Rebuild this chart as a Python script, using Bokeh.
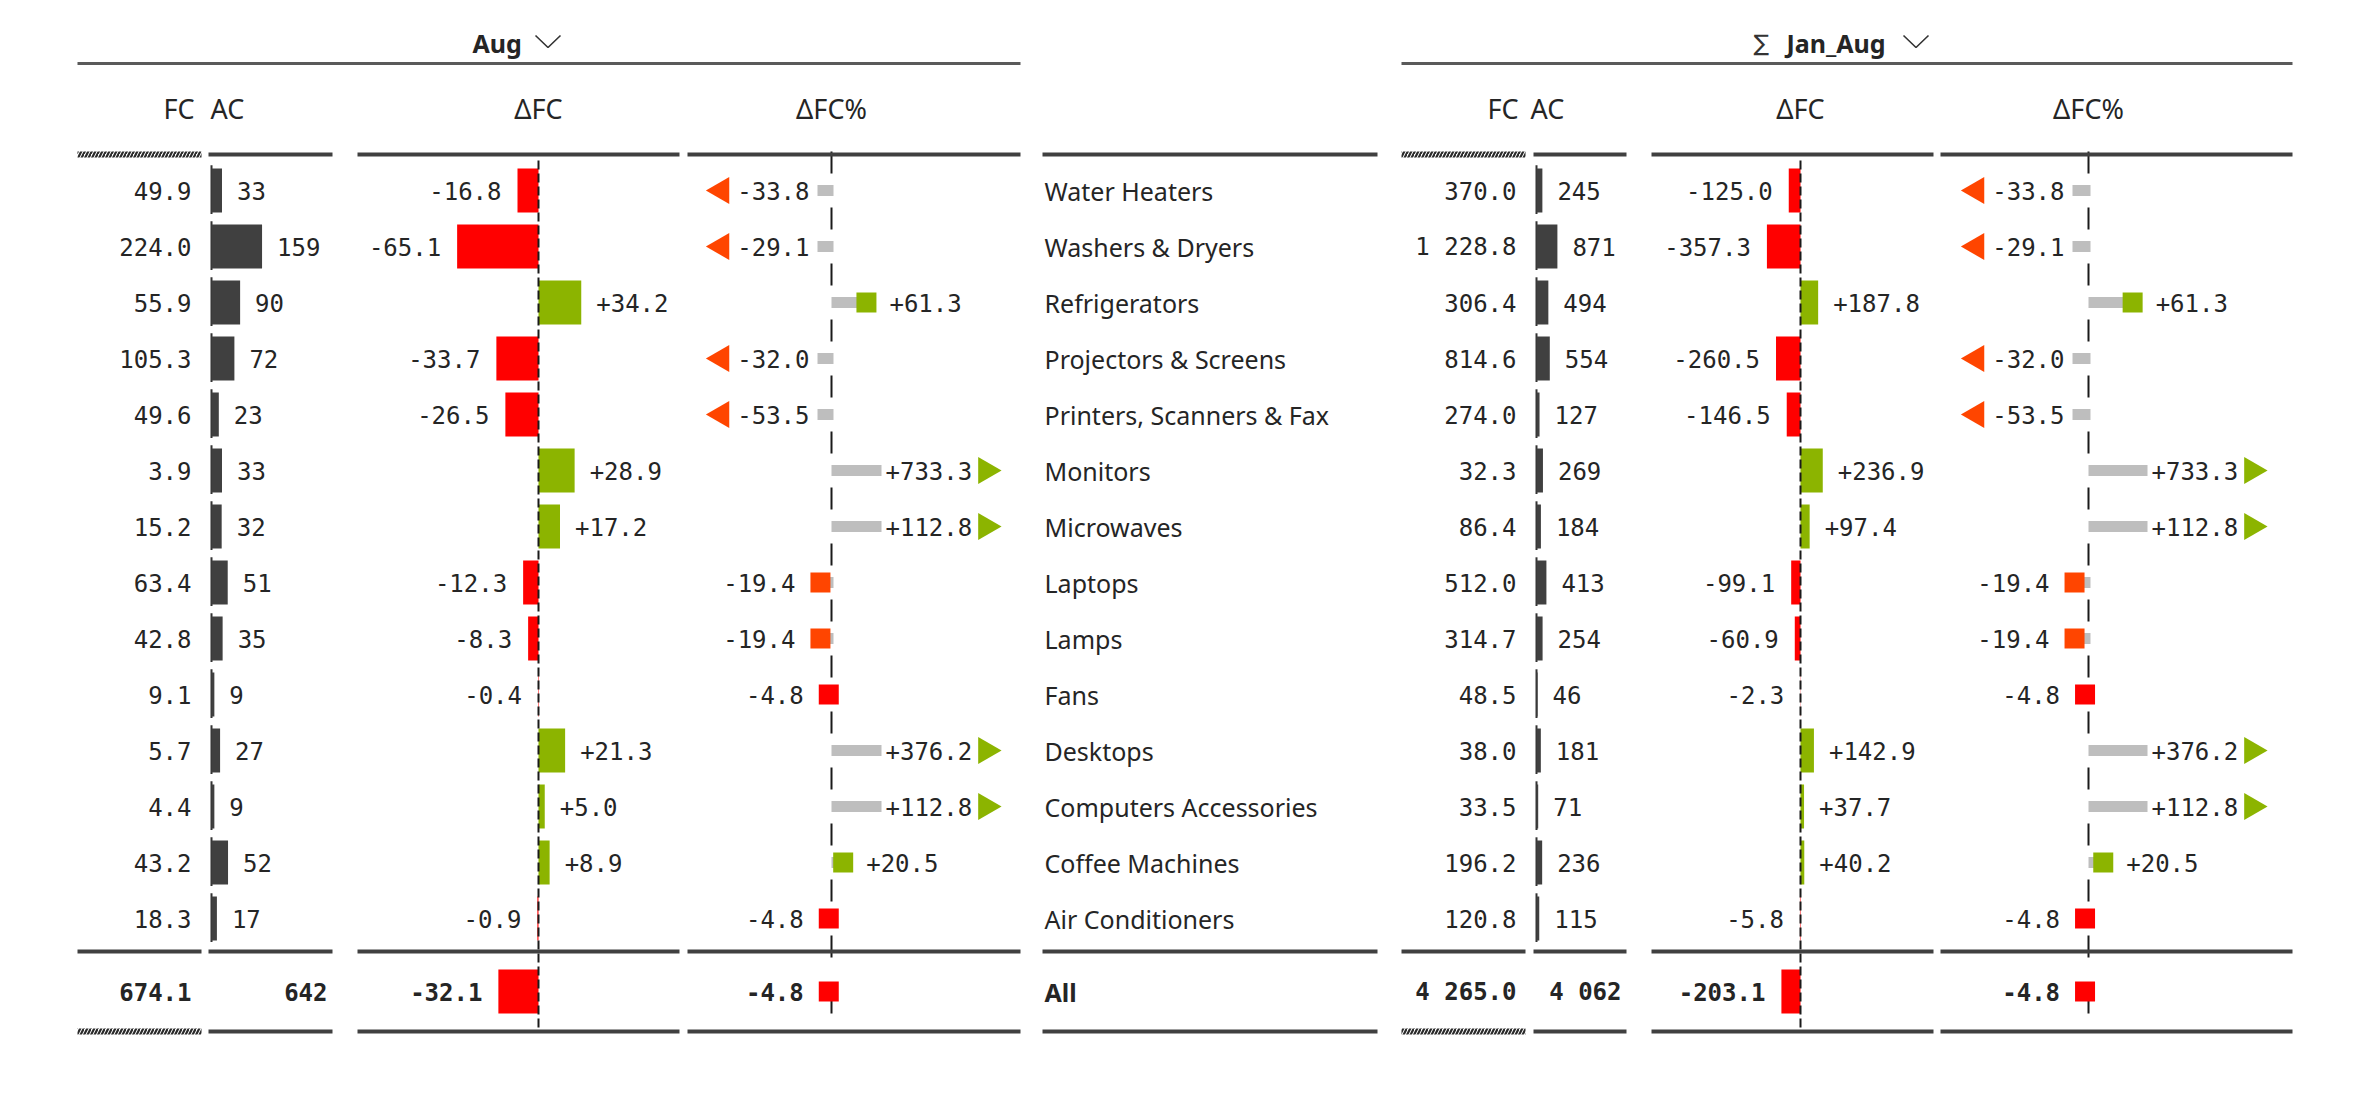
import math
from bokeh.plotting import figure
from bokeh.models import Range1d
from bokeh.core.properties import value
from bokeh.embed import file_html
from bokeh.resources import INLINE

# ---------------- data ----------------
categories = ["Water Heaters", "Washers & Dryers", "Refrigerators", "Projectors & Screens",
              "Printers, Scanners & Fax", "Monitors", "Microwaves", "Laptops", "Lamps", "Fans",
              "Desktops", "Computers Accessories", "Coffee Machines", "Air Conditioners"]
aug_fc = [49.9, 224.0, 55.9, 105.3, 49.6, 3.9, 15.2, 63.4, 42.8, 9.1, 5.7, 4.4, 43.2, 18.3]
aug_ac = [33, 159, 90, 72, 23, 33, 32, 51, 35, 9, 27, 9, 52, 17]
aug_dfc = [-16.8, -65.1, 34.2, -33.7, -26.5, 28.9, 17.2, -12.3, -8.3, -0.4, 21.3, 5.0, 8.9, -0.9]
aug_dfc_pct = [-33.8, -29.1, 61.3, -32.0, -53.5, 733.3, 112.8, -19.4, -19.4, -4.8, 376.2, 112.8, 20.5, -4.8]
ytd_fc = [370.0, 1228.8, 306.4, 814.6, 274.0, 32.3, 86.4, 512.0, 314.7, 48.5, 38.0, 33.5, 196.2, 120.8]
ytd_ac = [245, 871, 494, 554, 127, 269, 184, 413, 254, 46, 181, 71, 236, 115]
ytd_dfc = [-125.0, -357.3, 187.8, -260.5, -146.5, 236.9, 97.4, -99.1, -60.9, -2.3, 142.9, 37.7, 40.2, -5.8]
ytd_dfc_pct = [-33.8, -29.1, 61.3, -32.0, -53.5, 733.3, 112.8, -19.4, -19.4, -4.8, 376.2, 112.8, 20.5, -4.8]
total_label = "All"
aug_total_fc, aug_total_ac, aug_total_dfc, aug_total_pct = 674.1, 642, -32.1, -4.8
ytd_total_fc, ytd_total_ac, ytd_total_dfc, ytd_total_pct = 4265.0, 4062, -203.1, -4.8
period_titles = ["Aug", "Jan_Aug"]
column_headers = ["FC", "AC", "\u0394FC", "\u0394FC%"]

# ---------------- layout / style ----------------
W, H = 2352, 1090
X0, Y0 = 0, 0
ROW0, PITCH = 190.0, 56.0


def ry(py):
    return (py - ROW0) / PITCH


NUM_FONT = value("DejaVu Sans Mono")
SANS = value("Noto Sans")
SYM = value("DejaVu Sans")
FS = "24px"
CAT_FS = "25px"
HDR_FS = "27px"
TXT = "#252525"
GREEN, RED, ORANGE, STEM, DARK = "#8CB400", "#FF0000", "#FF4500", "#BEBEBE", "#404040"
BAR_H = 44 / PITCH
STEM_H = 11 / PITCH
CW = 0.602 * 24  # mono char width
SEP = "\u202f"

Y_TITLE, Y_TOPLINE, Y_HDR, Y_HLINE = ry(42), ry(63), ry(108), ry(154)
Y_SEP, Y_TOT, Y_BOT = ry(951), ry(991), ry(1031)

p = figure(width=W, height=H, output_backend="svg", toolbar_location=None,
           x_range=Range1d(X0, X0 + W), y_range=Range1d(ry(Y0 + H), ry(Y0)),
           x_axis_location=None, y_axis_location=None, min_border=0,
           outline_line_color=None, background_fill_color="white", border_fill_color="white")
p.grid.visible = False


def add_range(name, axis_page, ppu):
    p.extra_x_ranges[name] = Range1d((X0 - axis_page) / ppu, (X0 + W - axis_page) / ppu)


def txt(x, y, text, align="left", xoff=0, font=NUM_FONT, bold=False, rng=None, size=FS, color=TXT):
    kw = {}
    if rng is not None:
        kw["x_range_name"] = rng
    p.text(x=list(x), y=list(y), text=list(text), x_offset=xoff, text_align=align,
           text_baseline="middle", text_font=font, text_font_size=size,
           text_font_style="bold" if bold else "normal", text_color=color, **kw)


def f1(v):
    return f"{v:,.1f}".replace(",", SEP)


def f0(v):
    return f"{v:,d}".replace(",", SEP)


def fs(v):
    return f"{v:+,.1f}".replace(",", SEP)


def hline(x0, x1, y, width=4, color=DARK):
    p.segment(x0=[x0], x1=[x1], y0=[y], y1=[y], line_color=color, line_width=width)


def hatched(x0, x1, y):
    p.hbar(y=[y], left=[x0], right=[x1], height=6 / PITCH, fill_color=None, line_color=None,
           hatch_pattern="/", hatch_color="#2a2a2a", hatch_scale=7, hatch_weight=2.2)


def draw_panel(tag, fc, ac, dfc, pct, t_fc, t_ac, t_dfc, t_pct, cfg):
    n = len(fc)
    ys = list(range(n))
    acr, dr, pr = "ac" + tag, "d" + tag, "p" + tag
    add_range(acr, cfg["ac_axis"], cfg["ac_ppu"])
    add_range(dr, cfg["d_axis"], cfg["d_ppu"])
    add_range(pr, cfg["p_axis"], cfg["p_ppu"])

    # ---- FC / AC ----
    p.segment(x0=[0] * n, x1=[0] * n, y0=[y - 0.45 for y in ys], y1=[y + 0.42 for y in ys],
              x_range_name=acr, line_color="#333333", line_width=2)
    p.hbar(y=ys, left=[0] * n, right=ac, height=BAR_H, x_range_name=acr,
           fill_color=DARK, line_color=None)
    txt([0] * n, ys, [f1(v) for v in fc], align="right", xoff=-20, rng=acr)
    txt(ac, ys, [f0(v) for v in ac], align="left", xoff=15, rng=acr)
    txt([0], [Y_TOT], [f1(t_fc)], align="right", xoff=-20, rng=acr, bold=True)
    txt([cfg["ac_seg"][1] - 5], [Y_TOT], [f0(t_ac)], align="right", bold=True)

    # ---- delta FC ----
    dv = dfc + [t_dfc]
    dy = ys + [Y_TOT]
    p.hbar(y=dy, left=[min(0, v) for v in dv], right=[max(0, v) for v in dv], height=BAR_H,
           x_range_name=dr, fill_color=[GREEN if v > 0 else RED for v in dv], line_color=None)
    p.segment(x0=[0], x1=[0], y0=[ry(160)], y1=[Y_BOT], x_range_name=dr,
              line_color="#1a1a1a", line_width=2, line_dash="9 4")
    txt(dfc, ys, [fs(v) for v in dfc], align=["left" if v > 0 else "right" for v in dfc],
        xoff=[15 if v > 0 else -16 for v in dfc], rng=dr)
    txt([t_dfc], [Y_TOT], [fs(t_dfc)], align="right" if t_dfc < 0 else "left",
        xoff=-16 if t_dfc < 0 else 15, rng=dr, bold=True)

    # ---- delta FC % ----
    ppu = cfg["p_ppu"]
    lo, hi = cfg["lo_px"] / ppu, cfg["hi_px"] / ppu
    p.segment(x0=[0], x1=[0], y0=[ry(151)], y1=[Y_BOT], x_range_name=pr,
              line_color="#1a1a1a", line_width=2, line_dash="22 34")
    pv = pct + [t_pct]
    py = ys + [Y_TOT]
    stem = [min(max(v, lo), hi) for v in pv]
    p.hbar(y=py, left=[min(0, s) for s in stem], right=[max(0, s) + 2 / ppu for s in stem],
           height=STEM_H, x_range_name=pr, fill_color=STEM, line_color=None)

    def col(v):
        if v > 0:
            return GREEN
        return ORANGE if v < -10 else RED

    inr = [(v, y) for v, y in zip(pv, py) if lo <= v <= hi]
    p.scatter(x=[v for v, _ in inr], y=[y for _, y in inr], marker="square", size=20,
              x_range_name=pr, fill_color=[col(v) for v, _ in inr], line_color=None)
    rows_in = [(v, y) for v, y in zip(pct, ys) if lo <= v <= hi]
    txt([v for v, _ in rows_in], [y for _, y in rows_in], [fs(v) for v, _ in rows_in],
        align=["left" if v > 0 else "right" for v, _ in rows_in],
        xoff=[23 if v > 0 else -25 for v, _ in rows_in], rng=pr)
    txt([t_pct], [Y_TOT], [fs(t_pct)], align="right" if t_pct < 0 else "left",
        xoff=-25 if t_pct < 0 else 23, rng=pr, bold=True)
    neg = [(v, y) for v, y in zip(pct, ys) if v < lo]
    pos = [(v, y) for v, y in zip(pct, ys) if v > hi]
    txt([lo] * len(neg), [y for _, y in neg], [fs(v) for v, _ in neg], align="right", xoff=-8, rng=pr)
    txt([hi] * len(pos), [y for _, y in pos], [fs(v) for v, _ in pos], align="left", xoff=6, rng=pr)
    TS = 27
    th = TS / 2 * math.sqrt(3)
    nx = [lo + (-(8 + len(fs(v)) * CW + 8) - th / 3) / ppu for v, _ in neg]
    px = [hi + (6 + len(fs(v)) * CW + 6 + th / 3) / ppu for v, _ in pos]
    p.scatter(x=nx, y=[y for _, y in neg], marker="triangle", size=TS, angle=math.pi / 2,
              x_range_name=pr, fill_color=ORANGE, line_color=None)
    p.scatter(x=px, y=[y for _, y in pos], marker="triangle", size=TS, angle=-math.pi / 2,
              x_range_name=pr, fill_color=GREEN, line_color=None)

    # ---- header + lines ----
    txt([cfg["ac_axis"] + cfg["hdr_fc"]], [Y_HDR], [column_headers[0]], align="right", font=SANS, size=HDR_FS)
    txt([cfg["ac_axis"] + cfg["hdr_ac"]], [Y_HDR], [column_headers[1]], align="left", font=SANS, size=HDR_FS)
    txt([0], [Y_HDR], [column_headers[2]], align="center", font=SANS, rng=dr, size=HDR_FS)
    txt([0], [Y_HDR], [column_headers[3]], align="center", font=SANS, rng=pr, size=HDR_FS)
    hline(cfg["fc_seg"][0], cfg["p_seg"][1], Y_TOPLINE, width=3, color="#5a5a5a")
    for y in (Y_HLINE, Y_SEP, Y_BOT):
        if y == Y_SEP:
            hline(cfg["fc_seg"][0], cfg["fc_seg"][1], y)
        else:
            hatched(cfg["fc_seg"][0], cfg["fc_seg"][1], y)
        for seg in ("ac_seg", "d_seg", "p_seg"):
            hline(cfg[seg][0], cfg[seg][1], y)


left_cfg = dict(ac_axis=211, ac_ppu=0.318, d_axis=538, d_ppu=1.25, p_axis=831, p_ppu=0.57,
                lo_px=-14, hi_px=48, fc_seg=(77, 201), ac_seg=(208, 332), d_seg=(357, 679),
                p_seg=(687, 1020), hdr_fc=-17, hdr_ac=-1)
right_cfg = dict(ac_axis=1536, ac_ppu=0.024, d_axis=1800, d_ppu=0.094, p_axis=2088, p_ppu=0.72,
                 lo_px=-16, hi_px=57, fc_seg=(1401, 1525), ac_seg=(1533, 1626), d_seg=(1651, 1933),
                 p_seg=(1940, 2292), hdr_fc=-18, hdr_ac=-6)

draw_panel("L", aug_fc, aug_ac, aug_dfc, aug_dfc_pct,
           aug_total_fc, aug_total_ac, aug_total_dfc, aug_total_pct, left_cfg)
draw_panel("R", ytd_fc, ytd_ac, ytd_dfc, ytd_dfc_pct,
           ytd_total_fc, ytd_total_ac, ytd_total_dfc, ytd_total_pct, right_cfg)

# category column
cat_y = list(range(len(categories)))
txt([1044] * len(categories), cat_y, categories, align="left", font=SANS, size=CAT_FS)
txt([1044], [Y_TOT], [total_label], align="left", font=SANS, bold=True, size=CAT_FS)
for y in (Y_HLINE, Y_SEP, Y_BOT):
    hline(1042, 1377, y)

# titles
txt([472], [Y_TITLE], [period_titles[0]], align="left", font=SANS, bold=True, size="25px")
txt([1753], [Y_TITLE], ["\u2211"], align="left", font=SYM, size="23px", color="#333333")
txt([1786], [Y_TITLE], [period_titles[1]], align="left", font=SANS, bold=True, size="25px")
for cx in (547.5, 1915.5):
    p.line(x=[cx - 12.5, cx, cx + 12.5], y=[ry(35), ry(47), ry(35)], line_color="#333333", line_width=1.6)

open("out.html", "w").write(file_html(p, INLINE))
